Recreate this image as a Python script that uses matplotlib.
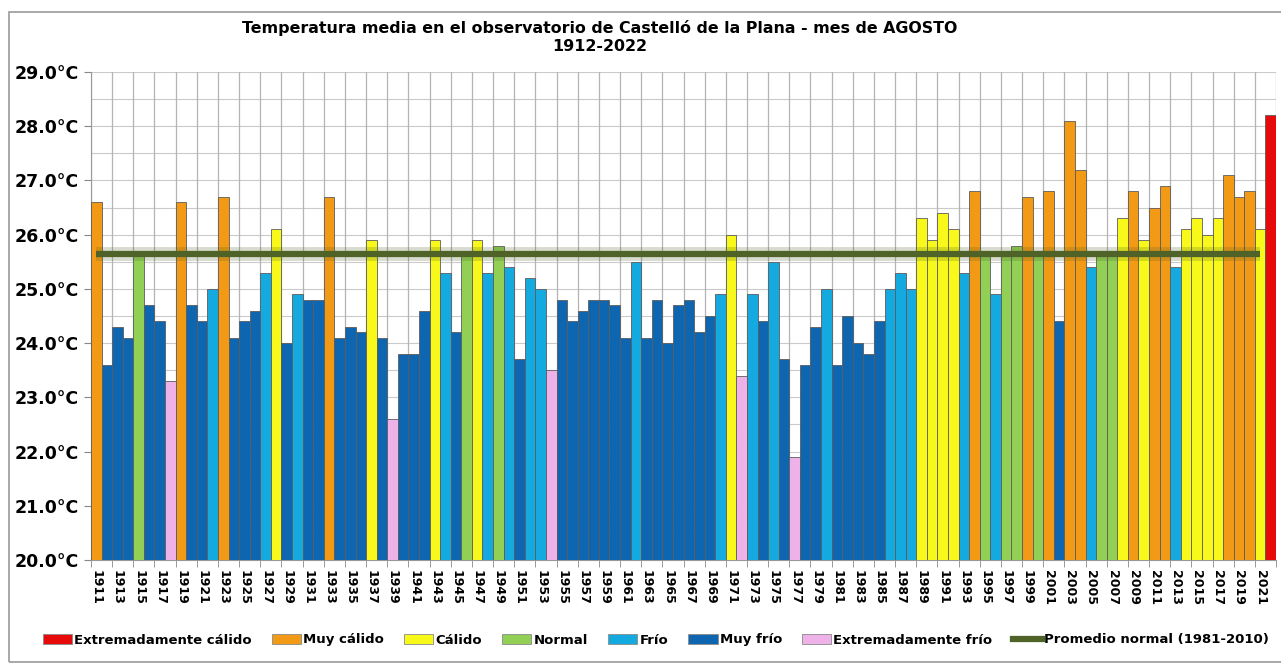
import matplotlib
matplotlib.use('Agg')
import matplotlib.pyplot as plt
from matplotlib.patches import Patch, Rectangle
from matplotlib.lines import Line2D
import numpy as np

# Years shown on the axis
years = list(range(1911, 2023))

# Mean August temperature (ºC)
temps = [
    26.6, 23.6, 24.3, 24.1, 25.6, 24.7, 24.4, 23.3, 26.6, 24.7,   # 1911-1920
    24.4, 25.0, 26.7, 24.1, 24.4, 24.6, 25.3, 26.1, 24.0, 24.9,   # 1921-1930
    24.8, 24.8, 26.7, 24.1, 24.3, 24.2, 25.9, 24.1, 22.6, 23.8,   # 1931-1940
    23.8, 24.6, 25.9, 25.3, 24.2, 25.6, 25.9, 25.3, 25.8, 25.4,   # 1941-1950
    23.7, 25.2, 25.0, 23.5, 24.8, 24.4, 24.6, 24.8, 24.8, 24.7,   # 1951-1960
    24.1, 25.5, 24.1, 24.8, 24.0, 24.7, 24.8, 24.2, 24.5, 24.9,   # 1961-1970
    26.0, 23.4, 24.9, 24.4, 25.5, 23.7, 21.9, 23.6, 24.3, 25.0,   # 1971-1980
    23.6, 24.5, 24.0, 23.8, 24.4, 25.0, 25.3, 25.0, 26.3, 25.9,   # 1981-1990
    26.4, 26.1, 25.3, 26.8, 25.6, 24.9, 25.7, 25.8, 26.7, 25.7,   # 1991-2000
    26.8, 24.4, 28.1, 27.2, 25.4, 25.7, 25.7, 26.3, 26.8, 25.9,   # 2001-2010
    26.5, 26.9, 25.4, 26.1, 26.3, 26.0, 26.3, 27.1, 26.7, 26.8,   # 2011-2020
    26.1, 28.2,                                                   # 2021-2022
]

# Category of each year: EC, MC, C, N, F, MF, EF
classes = [
    'MC', 'MF', 'MF', 'MF', 'N', 'MF', 'MF', 'EF', 'MC', 'MF',
    'MF', 'F', 'MC', 'MF', 'MF', 'MF', 'F', 'C', 'MF', 'F',
    'MF', 'MF', 'MC', 'MF', 'MF', 'MF', 'C', 'MF', 'EF', 'MF',
    'MF', 'MF', 'C', 'F', 'MF', 'N', 'C', 'F', 'N', 'F',
    'MF', 'F', 'F', 'EF', 'MF', 'MF', 'MF', 'MF', 'MF', 'MF',
    'MF', 'F', 'MF', 'MF', 'MF', 'MF', 'MF', 'MF', 'MF', 'F',
    'C', 'EF', 'F', 'MF', 'F', 'MF', 'EF', 'MF', 'MF', 'F',
    'MF', 'MF', 'MF', 'MF', 'MF', 'F', 'F', 'F', 'C', 'C',
    'C', 'C', 'F', 'MC', 'N', 'F', 'N', 'N', 'MC', 'N',
    'MC', 'MF', 'MC', 'MC', 'F', 'N', 'N', 'C', 'MC', 'C',
    'MC', 'MC', 'F', 'C', 'C', 'C', 'C', 'MC', 'MC', 'MC',
    'C', 'EC',
]

class_keys = ['EC', 'MC', 'C', 'N', 'F', 'MF', 'EF']
class_names = ['Extremadamente cálido', 'Muy cálido', 'Cálido', 'Normal',
               'Frío', 'Muy frío', 'Extremadamente frío']

# Normal 1981-2010 average
normal_mean = 25.64
normal_label = 'Promedio normal (1981-2010)'

title_text = 'Temperatura media en el observatorio de Castelló de la Plana - mes de AGOSTO\n1912-2022'

# colours
class_colors = {
    'EC': '#E60A0A',
    'MC': '#F29A16',
    'C': '#F8F81A',
    'N': '#92CF55',
    'F': '#14AADF',
    'MF': '#0F66B0',
    'EF': '#EEB2E8',
}
line_color = '#4F6228'


def main():
    fig = plt.figure(figsize=(12.81, 6.64), dpi=100)
    ax = fig.add_axes([91 / 1281, 1 - 560 / 664, 1185 / 1281, 488 / 664])

    # outer frame of the chart
    fig.patches.append(Rectangle((9 / 1281, 0.003), 1.0, 1 - 12 / 664 - 0.003,
                                 transform=fig.transFigure, fill=False,
                                 edgecolor='#9a9a9a', linewidth=1.2))

    x = np.array(years)
    bar_colors = [class_colors[c] for c in classes]
    ax.bar(x, np.array(temps) - 20.0, bottom=20.0, width=1.0,
           color=bar_colors, edgecolor='#5c5c5c', linewidth=0.6, zorder=3)

    # normal average line, with a soft shadow
    xl = x[:-1]
    yl = np.full(len(xl), normal_mean)
    ax.plot(xl, yl, color=line_color, linewidth=10, alpha=0.22, zorder=4,
            solid_capstyle='butt')
    ax.plot(xl, yl, color=line_color, linewidth=4.5, zorder=5,
            solid_capstyle='butt')

    ax.set_xlim(years[0] - 0.5, years[-1] + 0.5)
    ax.set_ylim(20, 29)

    # grid
    for yv in np.arange(20.5, 29.01, 0.5):
        ax.axhline(yv, color='#cacaca', linewidth=0.8, zorder=1)
    for xv in np.arange(years[0] - 0.5, years[-1] + 0.6, 2):
        ax.axvline(xv, color='#b4b4b4', linewidth=0.9, zorder=1)

    ax.set_yticks(np.arange(20, 29.1, 1))
    ax.set_yticklabels(['%.1f°C' % v for v in np.arange(20, 29.1, 1)],
                       fontsize=12.5, fontweight='bold')
    odd_years = years[::2]
    ax.set_xticks(odd_years)
    ax.set_xticklabels([str(y) for y in odd_years], rotation=-90,
                       fontsize=9, fontweight='bold')
    ax.set_xticks(np.arange(years[0] - 0.5, years[-1] + 0.6, 2), minor=True)
    ax.tick_params(axis='x', which='major', length=0, pad=7)
    ax.tick_params(axis='x', which='minor', length=5, color='#888888')
    ax.tick_params(axis='y', length=5, color='#888888', pad=4)

    for side in ['top', 'right']:
        ax.spines[side].set_visible(False)
    ax.spines['left'].set_color('#999999')
    ax.spines['bottom'].set_color('#999999')

    fig.text(600 / 1281, 1 - 37 / 664, title_text, ha='center', va='center',
             fontsize=11.4, fontweight='bold', linespacing=1.2)

    handles = [Patch(facecolor=class_colors[k], edgecolor='#8a8a8a', linewidth=0.6)
               for k in class_keys]
    handles.append(Line2D([0], [0], color=line_color, linewidth=4.5))
    labels = class_names + [normal_label]
    fig.legend(handles, labels, loc='center', bbox_to_anchor=(0.512, 1 - 640 / 664),
               ncol=8, frameon=False, prop={'weight': 'bold', 'size': 9.5},
               handlelength=2.2, handleheight=0.75, handletextpad=0.15,
               columnspacing=1.55)

    fig.savefig('out.png', dpi=100)


if __name__ == "__main__":
    main()
